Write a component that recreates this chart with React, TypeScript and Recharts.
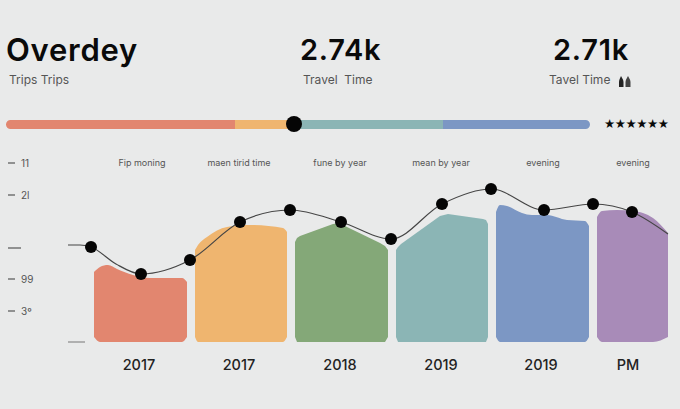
import { Area, Bar, BarChart, ComposedChart, Line, ReferenceDot, ReferenceLine, XAxis, YAxis } from "recharts";

// progress bar segments
const progressLengths = [229, 59, 149, 147];
const progressColors = ["#e2866f", "#efb56f", "#8bb5b5", "#7c97c4"];
const progressKnob = 288;

// area shapes: x along the timeline, height above the baseline
const redX = [94, 100, 108, 117, 133, 150, 182, 187];
const redTop = [70, 75, 77, 73, 67, 64, 64, 60];
const orangeX = [195, 198, 207, 227, 250, 283, 287];
const orangeTop = [92, 97, 105, 115, 117, 114, 110];
const greenX = [295, 297, 300, 333, 340, 347, 380, 385, 388];
const greenTop = [100, 104, 106, 118, 119, 115, 99, 96, 92];
const tealX = [396, 398, 401, 440, 448, 483, 486, 488];
const tealTop = [92, 95, 98, 126, 128, 123, 122, 118];
const blueX = [496, 500, 507, 522, 532, 547, 567, 585, 589];
const blueTop = [130, 137, 136, 129, 127, 127, 122, 121, 116];
const purpleX = [597, 602, 617, 633, 653, 668];
const purpleTop = [125, 131, 132, 131, 124, 109];

// trend line
const trendX = [68, 80, 91, 116, 141, 190, 240, 290, 341, 391, 442, 491, 544, 593, 632, 668];
const trendY = [97, 97, 95, 78, 68, 82, 120, 132, 120, 103, 138, 153, 132, 138, 130, 108];

const yearTicks = [139, 239, 340, 441, 541, 628];
const yearLabels = ["2017", "2017", "2018", "2019", "2019", "PM"];
const captionX = [142, 239, 340, 441, 543, 633];
const captions = ["Fip moning", "maen tirid time", "fune by year", "mean by year", "evening", "evening"];
const yTicks = [31, 63, 94, 147, 179];
const yLabels = ["3\u00BA", "99", "", "2l", "11"];

const toShape = (xs: number[], tops: number[]) =>
  xs.map((x, i) => ({
    x,
    range: [i === 0 || i === xs.length - 1 ? 5 : 0, tops[i]],
  }));

const shapes = [
  { data: toShape(redX, redTop), color: "#e2866f", curve: "monotone" },
  { data: toShape(orangeX, orangeTop), color: "#efb56f", curve: "monotone" },
  { data: toShape(greenX, greenTop), color: "#84a878", curve: "linear" },
  { data: toShape(tealX, tealTop), color: "#8bb5b5", curve: "linear" },
  { data: toShape(blueX, blueTop), color: "#7c97c4", curve: "monotone" },
  { data: toShape(purpleX, purpleTop), color: "#a88bb8", curve: "monotone" },
];

const trend = trendX.map((x, i) => ({ x, y: trendY[i] }));
const progress = [{ name: "trips", a: progressLengths[0], b: progressLengths[1], c: progressLengths[2], d: progressLengths[3] }];

const font = "Inter, 'Noto Sans', sans-serif";

const Stat = ({ left, top, size, weight, color, spacing, children }: any) => (
  <div style={{ position: "absolute", left, top, fontSize: size, fontWeight: weight, color, letterSpacing: spacing, fontFamily: font, whiteSpace: "pre", lineHeight: 1 }}>
    {children}
  </div>
);

const LeftTick = ({ y, payload }: any) => {
  const label = yLabels[yTicks.indexOf(payload.value)];
  return (
    <g>
      <line x1={8} x2={label ? 15 : 21} y1={y} y2={y} stroke="#555" strokeWidth={1.2} />
      <text x={21} y={y + 3.5} fontSize={10} fill="#555" fontFamily={font}>
        {label}
      </text>
    </g>
  );
};

const YearTick = ({ x, payload }: any) => (
  <text x={x} y={370} textAnchor="middle" fontSize={14.5} fontWeight={500} fill="#222" fontFamily={font}>
    {yearLabels[yearTicks.indexOf(payload.value)]}
  </text>
);

const TrendDot = ({ cx, cy, index }: any) =>
  index < 2 || index === 3 || index === trendX.length - 1 ? (
    <g key={index} />
  ) : (
    <circle key={index} cx={cx} cy={cy} r={6} fill="#050505" />
  );

export default function App() {
  return (
    <div style={{ position: "fixed", left: 0, top: 0, width: 680, height: 409, background: "#e9eaea", overflow: "hidden" }}>
      <Stat left={6} top={34} size={31} weight={600} spacing={0.75} color="#0a0a0a">Overdey</Stat>
      <Stat left={9} top={74} size={12} weight={400} color="#555">Trips Trips</Stat>
      <Stat left={300} top={35} size={29} weight={600} spacing={0.75} color="#0a0a0a">2.74k</Stat>
      <Stat left={303} top={74} size={12} weight={400} color="#555">{"Travel  Time"}</Stat>
      <Stat left={553} top={35} size={29} weight={600} spacing={0.75} color="#0a0a0a">2.71k</Stat>
      <Stat left={549} top={74} size={12} weight={400} color="#555">Tavel Time</Stat>
      <svg style={{ position: "absolute", left: 618, top: 74 }} width={14} height={14}>
        <path d="M1 13 V8 Q1 6 3 2 Q5.5 6 5.5 8 V13 Z" fill="#222" />
        <path d="M7.5 13 V8 Q7.5 6 10 2 Q12.5 6 12.5 8 V13 Z" fill="#444" />
      </svg>
      <div style={{ position: "absolute", left: 604, top: 116, fontSize: 12.5, letterSpacing: -0.45, color: "#0a0a0a", fontFamily: "'DejaVu Sans'", lineHeight: 1.2, whiteSpace: "pre" }}>
        ★★★★★★
      </div>

      <div style={{ position: "absolute", left: 0, top: 104 }}>
        <BarChart width={680} height={40} layout="vertical" data={progress} margin={{ top: 0, right: 90, bottom: 0, left: 6 }} barSize={9}>
          <XAxis type="number" hide domain={[0, 584]} />
          <YAxis type="category" hide dataKey="name" />
          <Bar dataKey="a" stackId="p" fill={progressColors[0]} radius={[4.5, 0, 0, 4.5]} isAnimationActive={false} />
          <Bar dataKey="b" stackId="p" fill={progressColors[1]} isAnimationActive={false} />
          <Bar dataKey="c" stackId="p" fill={progressColors[2]} isAnimationActive={false} />
          <Bar dataKey="d" stackId="p" fill={progressColors[3]} radius={[0, 4.5, 4.5, 0]} isAnimationActive={false} />
          <ReferenceDot x={progressKnob} y="trips" r={8} fill="#050505" stroke="none" />
        </BarChart>
      </div>

      <div style={{ position: "absolute", left: 0, top: 0 }}>
        <ComposedChart width={680} height={409} margin={{ top: 0, right: 12, bottom: 0, left: 0 }}>
          <XAxis
            type="number"
            dataKey="x"
            domain={[68, 668]}
            ticks={yearTicks}
            height={67}
            axisLine={false}
            tickLine={false}
            tick={<YearTick />}
            interval={0}
          />
          <YAxis width={68} domain={[0, 342]} ticks={yTicks} axisLine={false} tickLine={false} tick={<LeftTick />} interval={0} />
          {shapes.map((s, i) => (
            <Area
              key={i}
              data={s.data}
              dataKey="range"
              type={s.curve as any}
              fill={s.color}
              fillOpacity={1}
              stroke="none"
              dot={false}
              activeDot={false}
              isAnimationActive={false}
            />
          ))}
          <Line
            data={trend}
            dataKey="y"
            type="monotone"
            stroke="#454545"
            strokeWidth={1.2}
            dot={<TrendDot />}
            activeDot={false}
            isAnimationActive={false}
          />
          <ReferenceLine segment={[{ x: 68, y: 0 }, { x: 85, y: 0 }]} stroke="#777" strokeWidth={1} />
          {captionX.map((x, i) => (
            <ReferenceDot
              key={x}
              x={x}
              y={179}
              r={0}
              fill="none"
              stroke="none"
              label={{ value: captions[i], position: "center", fontSize: 9, fill: "#555", fontFamily: font }}
            />
          ))}
        </ComposedChart>
      </div>
    </div>
  );
}
